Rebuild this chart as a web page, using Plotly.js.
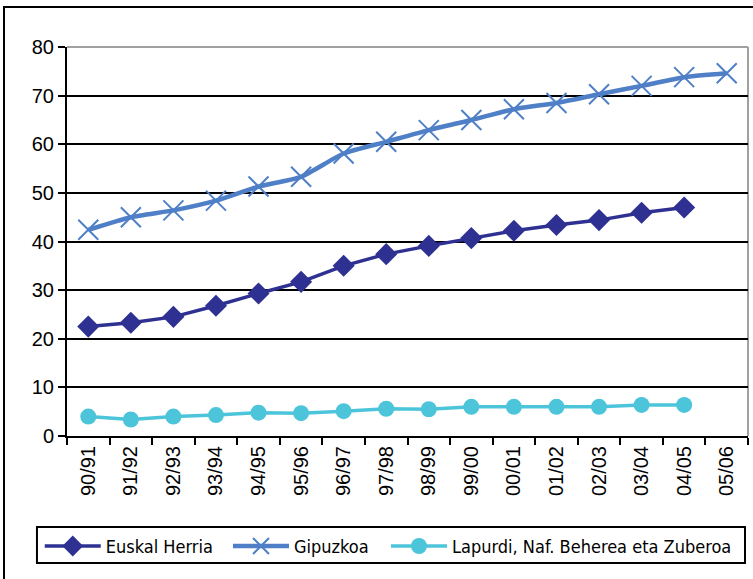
<!DOCTYPE html>
<html>
<head>
<meta charset="utf-8">
<script src="https://cdn.plot.ly/plotly-3.0.1.min.js"></script>
<style>
html,body{margin:0;padding:0;width:753px;height:579px;overflow:hidden;background:#fff;}
#frame{position:absolute;left:3px;top:6px;width:820px;height:640px;border:2px solid #000;box-sizing:border-box;pointer-events:none;z-index:5;}
#chart{position:absolute;left:0;top:0;width:900px;height:579px;}
</style>
</head>
<body>
<div id="chart"></div>
<div id="frame"></div>
<script>
const categories = ["90/91","91/92","92/93","93/94","94/95","95/96","96/97","97/98","98/99","99/00","00/01","01/02","02/03","03/04","04/05","05/06"];
const euskalHerria = [22.5, 23.3, 24.5, 26.8, 29.3, 31.7, 35.0, 37.4, 39.1, 40.7, 42.2, 43.4, 44.4, 45.9, 47.0, null];
const gipuzkoa = [42.4, 45.0, 46.4, 48.4, 51.3, 53.3, 58.1, 60.5, 62.9, 65.0, 67.2, 68.5, 70.3, 72.0, 73.8, 74.6];
const lapurdi = [4.0, 3.4, 4.0, 4.3, 4.8, 4.7, 5.1, 5.6, 5.5, 6.0, 6.0, 6.0, 6.0, 6.4, 6.4, null];
const seriesNames = ["Euskal Herria", "Gipuzkoa", "Lapurdi, Naf. Beherea eta Zuberoa"];

const traces = [
  {x: categories, y: euskalHerria, name: seriesNames[0], type: 'scatter', mode: 'lines+markers', legend: 'legend',
   line: {color: '#2E3192', width: 3.5}, marker: {symbol: 'diamond', size: 17, color: '#2E3192'}},
  {x: categories, y: gipuzkoa, name: seriesNames[1], type: 'scatter', mode: 'lines+markers', legend: 'legend2',
   line: {color: '#4F7FC6', width: 4.5, shape: 'spline', smoothing: 0.6},
   marker: {symbol: 'x-thin-open', size: 20, color: '#4F7FC6', line: {width: 2, color: '#4F7FC6'}}},
  {x: categories, y: lapurdi, name: seriesNames[2], type: 'scatter', mode: 'lines+markers', legend: 'legend3',
   line: {color: '#4CC5DA', width: 3.5}, marker: {symbol: 'circle', size: 16, color: '#4CC5DA'}}
];

const tickFont = {family: "'Liberation Sans', Arial, sans-serif", size: 20, color: '#000'};
const legendFont = {family: "'Liberation Sans Narrow', 'DejaVu Sans Condensed', 'Arial Narrow', sans-serif", size: 18, color: '#000'};
function legendAt(x) {
  return {orientation: 'h', x: x, xanchor: 'left', y: -0.236, yanchor: 'top',
    borderwidth: 0, bgcolor: 'rgba(0,0,0,0)', font: legendFont, itemwidth: 56};
}

const layout = {
  width: 900, height: 579,
  margin: {l: 67, r: 152, t: 47, b: 143},
  paper_bgcolor: '#fff', plot_bgcolor: '#fff',
  font: tickFont,
  showlegend: true,
  legend: legendAt(-0.040),
  legend2: legendAt(0.2364),
  legend3: legendAt(0.4684),
  xaxis: {type: 'category', showgrid: false, showline: true, linecolor: '#000', linewidth: 2,
    ticks: 'outside', tickson: 'boundaries', ticklen: 7, tickwidth: 2, tickcolor: '#000',
    tickangle: -90, tickfont: tickFont, zeroline: false, range: [-0.5, 15.5], fixedrange: true},
  yaxis: {range: [0, 80], dtick: 10, showgrid: true, gridcolor: '#000', gridwidth: 2,
    showline: true, linecolor: '#000', linewidth: 2, ticks: 'outside', ticklen: 7, tickwidth: 2,
    tickcolor: '#000', tickfont: tickFont, zeroline: false, fixedrange: true},
  shapes: [
    {type: 'line', xref: 'paper', yref: 'paper', x0: 0, x1: 1, y0: 1, y1: 1, line: {color: '#A0A0A0', width: 2}, layer: 'below'},
    {type: 'line', xref: 'paper', yref: 'paper', x0: 1, x1: 1, y0: 0, y1: 1, line: {color: '#A0A0A0', width: 2}, layer: 'below'},
    {type: 'rect', xref: 'paper', yref: 'paper', x0: -0.0441, x1: 0.9956, y0: -0.3265, y1: -0.2339,
     line: {color: '#000', width: 2}, fillcolor: 'rgba(0,0,0,0)', layer: 'above'}
  ]
};

Plotly.newPlot('chart', traces, layout, {staticPlot: true, displayModeBar: false});
</script>
</body>
</html>
